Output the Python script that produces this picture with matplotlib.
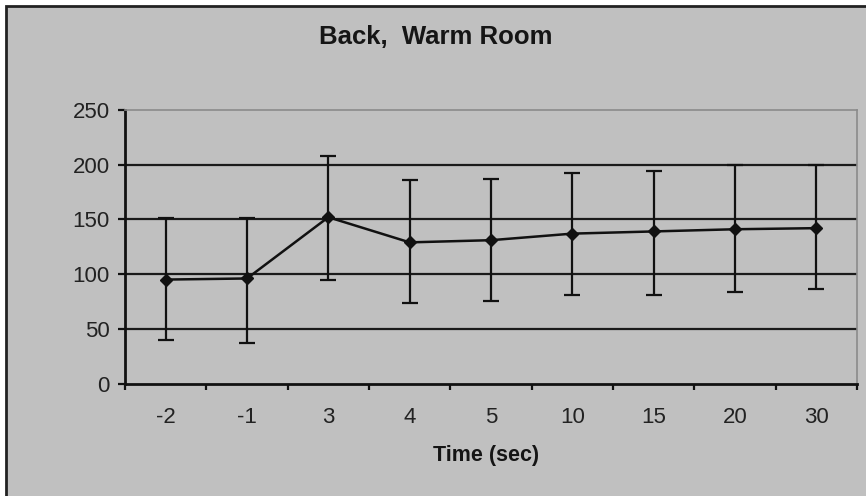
import numpy as np
import matplotlib
matplotlib.use("Agg")
import matplotlib.pyplot as plt
from matplotlib.patches import Rectangle

plt.rcParams['font.family'] = ['Liberation Sans', 'DejaVu Sans']

# values
times = ["-2", "-1", "3", "4", "5", "10", "15", "20", "30"]
mean = [95, 96, 152, 129, 131, 137, 139, 141, 142]
upper = [151, 151, 208, 186, 187, 192, 194, 200, 200]
lower = [40, 37, 95, 74, 75, 81, 81, 84, 86]

mean = np.array(mean)
yerr = [mean - np.array(lower), np.array(upper) - mean]
x = np.arange(len(times))

bg = "#c0c0c0"
fig = plt.figure(figsize=(8.66, 4.96), dpi=100)
fig.patch.set_facecolor("white")
# chart area frame (only top/left edges visible in the crop)
fig.patches.append(Rectangle((5.5 / 866, -0.1), 1.2, 1 - 6 / 496 + 0.1,
                             transform=fig.transFigure, facecolor=bg,
                             edgecolor="#222222", linewidth=2, zorder=-10))

ax = fig.add_axes([125 / 866, 1 - 383.5 / 496, 732 / 866, 273.5 / 496])
ax.set_facecolor(bg)

for v in [50, 100, 150, 200]:
    ax.axhline(v, color="#1a1a1a", linewidth=1.6, zorder=1)

ax.errorbar(x, mean, yerr=yerr, color="#111111", linewidth=1.8,
            elinewidth=1.6, capsize=6, capthick=1.6, marker="D",
            markersize=6, zorder=3)

ax.set_xlim(-0.5, len(times) - 0.5)
ax.set_ylim(0, 250)
ax.set_yticks([0, 50, 100, 150, 200, 250])
ax.set_xticks(x)
ax.set_xticklabels(times)
ax.set_xticks(np.arange(-0.5, len(times), 1), minor=True)
ax.tick_params(axis="x", which="major", length=0, pad=17, labelsize=16,
               labelcolor="#222222")
ax.tick_params(axis="x", which="minor", length=4, width=1.6, direction="out",
               color="#111111")
ax.tick_params(axis="y", length=5, width=1.6, pad=6, labelsize=16,
               labelcolor="#222222", color="#111111")

ax.spines["left"].set_linewidth(2)
ax.spines["bottom"].set_linewidth(2)
ax.spines["left"].set_color("#111111")
ax.spines["bottom"].set_color("#111111")
ax.spines["top"].set_color("#8a8a8a")
ax.spines["right"].set_color("#8a8a8a")
ax.spines["top"].set_linewidth(1.2)
ax.spines["right"].set_linewidth(1.2)

fig.text(436 / 866, 1 - 37 / 496, "Back,  Warm Room", ha="center",
         va="center", fontsize=18.5, fontweight="bold", color="#151515")
fig.text(486 / 866, 1 - 455 / 496, "Time (sec)", ha="center", va="center",
         fontsize=15.5, fontweight="bold", color="#151515")

fig.savefig("out.png", dpi=100, facecolor=fig.get_facecolor())
